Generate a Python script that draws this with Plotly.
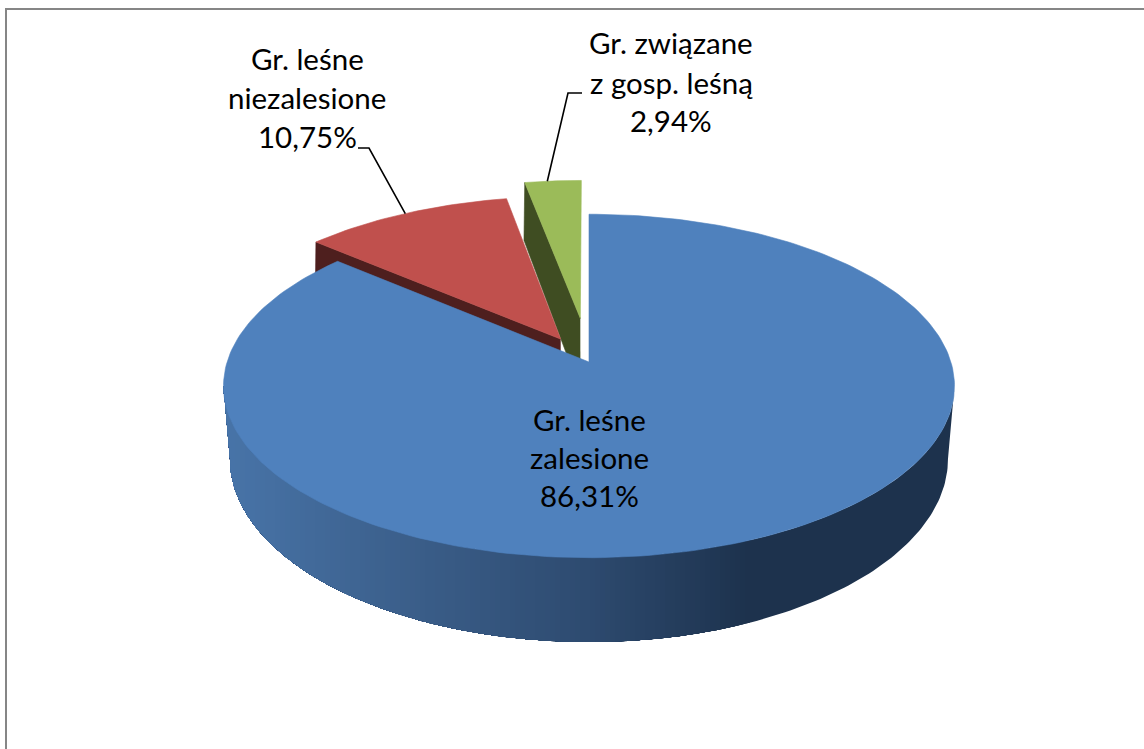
import numpy as np
import plotly.graph_objects as go

# ---- data ----
categories = ["Gr. leśne zalesione", "Gr. leśne niezalesione", "Gr. związane z gosp. leśną"]
values = [86.31, 10.75, 2.94]
label_lines = [["Gr. leśne", "zalesione", "86,31%"],
               ["Gr. leśne", "niezalesione", "10,75%"],
               ["Gr. związane", "z gosp. leśną", "2,94%"]]

# ---- style / layout ----
W, H = 1144, 749
explode = [0.0, 0.16, 0.27]
top_colors = ["#4F81BD", "#C0504D", "#9BBB59"]
cut_colors = [None, "#4E1F1E", "#3F4D22"]
CX, Y0, A, B, P = 589, 362, 361.9, 168.4, 0.1395        # top disc projection
Y1, A1, B1, P1 = 438, 356.6, 180.6, 0.1148              # bottom disc projection
FONT = "Lato"
FSIZE = 29.5
label_pos = [(589, [419.5, 457.5, 495.5]), (307, [58.5, 97.5, 136.5]), (671, [42.5, 82.5, 120.5])]
leader_frac = {1: 0.5, 2: 0.4}
leader_tail = {1: [(369, 148), (358, 148)], 2: [(568, 93), (582, 93)]}
grad_x = [230, 400, 589, 750, 950]
grad_r = [72, 60, 46, 29, 29]
grad_g = [116, 96, 75, 50, 50]
grad_b = [168, 140, 112, 77, 77]
BAND = 5


def top(X, Y):
    d = 1 + P * Y
    return CX + A * X / d, Y0 - B * Y / d


def bottom(X, Y):
    d = 1 + P1 * Y
    return CX + A1 * X / d, Y1 - B1 * Y / d


def polar(deg, e, mid):
    return (np.sin(np.radians(deg)) + e * np.sin(np.radians(mid)),
            np.cos(np.radians(deg)) + e * np.cos(np.radians(mid)))


def poly(xs, ys, color, lw=0.6):
    return go.Scatter(x=list(xs), y=list(ys), mode="lines", fill="toself",
                      fillcolor=color, line=dict(color=color, width=lw),
                      hoverinfo="skip", showlegend=False)


def clip_left_of(xs, ys, limit):
    """Keep the part of a polygon that lies at x <= limit."""
    out_x, out_y = [], []
    n = len(xs)
    for j in range(n):
        x0, y0, x1, y1 = xs[j], ys[j], xs[(j + 1) % n], ys[(j + 1) % n]
        if x0 <= limit:
            out_x.append(x0)
            out_y.append(y0)
        if (x0 <= limit) != (x1 <= limit):
            f = (limit - x0) / (x1 - x0)
            out_x.append(limit)
            out_y.append(y0 + f * (y1 - y0))
    return out_x, out_y


def shade(x):
    return "rgb(%d,%d,%d)" % (np.interp(x, grad_x, grad_r),
                              np.interp(x, grad_x, grad_g),
                              np.interp(x, grad_x, grad_b))


total = sum(values)
edges = np.cumsum([0] + values) / total * 360
mids = (edges[:-1] + edges[1:]) / 2
fig = go.Figure()

# back slices (green, then red): cut face then top surface
for i in (2, 1):
    a0, a1, m, e = edges[i], edges[i + 1], mids[i], explode[i]
    ox, oy = polar(a0, e, m)
    ax, ay = e * np.sin(np.radians(m)), e * np.cos(np.radians(m))
    px = [top(ax, ay)[0], top(ox, oy)[0], bottom(ox, oy)[0], bottom(ax, ay)[0]]
    py = [top(ax, ay)[1], top(ox, oy)[1], bottom(ox, oy)[1], bottom(ax, ay)[1]]
    fig.add_trace(poly(px, py, cut_colors[i]))
    t = np.linspace(a0, a1, 40)
    X, Y = polar(t, e, m)
    sx, sy = top(X, Y)
    ex, ey = top(ax, ay)
    fig.add_trace(poly([ex, *sx, ex], [ey, *sy, ey], top_colors[i]))

# blue side wall: vertical bands painted right to left, each one over the last.
# Both rims run between their own leftmost and rightmost projected points.
t_u = np.linspace(90 + np.degrees(np.arcsin(P)), 270 - np.degrees(np.arcsin(P)), 181)
t_l = np.linspace(90 + np.degrees(np.arcsin(P1)), 270 - np.degrees(np.arcsin(P1)), 181)
ux, uy = top(np.sin(np.radians(t_u)), np.cos(np.radians(t_u)))
lx, ly = bottom(np.sin(np.radians(t_l)), np.cos(np.radians(t_l)))
wall_x = [*ux, *lx[::-1]]
wall_y = [*uy, *ly[::-1]]
fig.add_trace(poly(wall_x, wall_y, shade(grad_x[-1]), lw=0))
for limit in np.arange(grad_x[3], min(wall_x), -BAND):
    cx_, cy_ = clip_left_of(wall_x, wall_y, float(limit))
    fig.add_trace(poly(cx_, cy_, shade(limit - BAND / 2), lw=0))

# blue top surface
t = np.linspace(edges[0], edges[1], 240)
X, Y = np.sin(np.radians(t)), np.cos(np.radians(t))
sx, sy = top(X, Y)
fig.add_trace(poly([CX, *sx, CX], [Y0, *sy, Y0], top_colors[0]))

# leader lines
for i, tail in leader_tail.items():
    a = edges[i] + (edges[i + 1] - edges[i]) * leader_frac[i]
    X, Y = polar(a, explode[i], mids[i])
    sx, sy = top(X, Y)
    fig.add_trace(go.Scatter(x=[sx] + [p[0] for p in tail], y=[sy] + [p[1] for p in tail],
                             mode="lines", line=dict(color="black", width=1.6),
                             hoverinfo="skip", showlegend=False))

# labels
ann = []
for lines, (lx_, lys) in zip(label_lines, label_pos):
    for s, ly_ in zip(lines, lys):
        ann.append(dict(x=lx_, y=ly_, text=s, showarrow=False, xanchor="center", yanchor="middle",
                        font=dict(family=FONT, size=FSIZE, color="black")))

# frame
frame = [dict(type="line", x0=6, y0=9, x1=W, y1=9, line=dict(color="#868686", width=2)),
         dict(type="line", x0=6, y0=8, x1=6, y1=H, line=dict(color="#868686", width=2))]

fig.update_layout(width=W, height=H, margin=dict(l=0, r=0, t=0, b=0),
                  paper_bgcolor="white", plot_bgcolor="white", showlegend=False,
                  xaxis=dict(range=[0, W], visible=False, fixedrange=True),
                  yaxis=dict(range=[H, 0], visible=False, fixedrange=True),
                  annotations=ann, shapes=frame)
fig.write_html("out.html", config={"displayModeBar": False},
               post_script="document.body.style.margin='0';document.body.style.overflow='hidden';")
